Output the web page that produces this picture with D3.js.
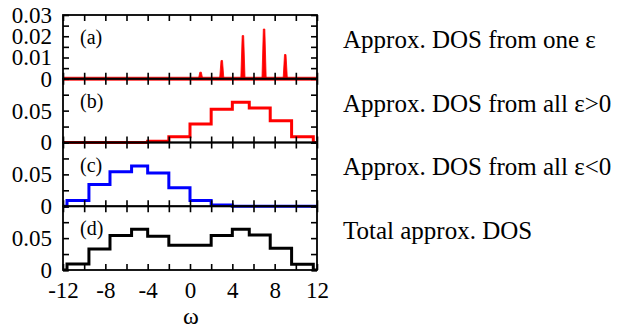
<!DOCTYPE html>
<html>
<head>
<meta charset="utf-8">
<script src="https://cdn.jsdelivr.net/npm/d3@7"></script>
<style>
  html, body { margin: 0; padding: 0; background: #fff; }
  svg { display: block; }
  text { font-family: "Liberation Serif", "Times New Roman", serif; fill: #000; }
</style>
</head>
<body>
<svg id="chart" width="619" height="331"></svg>
<script>
// ω axis
const omegaDomain = [-12, 12];
const omegaMinorTicks = d3.range(-12, 12.001, 2);
const omegaTickLabels = [-12, -8, -4, 0, 4, 8, 12];

// (a) approximate DOS from one ε: narrow peaks
const spikeOmega = [1, 3, 5, 7, 9];
const spikeDOS = [0.0031, 0.0086, 0.0203, 0.0234, 0.0114];

// (b) approximate DOS from all ε>0 (bin edges and bin heights)
const edgesPos = [-12, -4, -2, 0, 2, 4, 5.6, 7.58, 9.6, 11.65, 12];
const dosPos = [0, 0.002, 0.009, 0.029, 0.052, 0.063, 0.054, 0.034, 0.009, 0];

// (c) approximate DOS from all ε<0
const edgesNeg = [-12, -11.62, -9.55, -7.56, -5.52, -4, -2, 0, 2, 4, 12];
const dosNeg = [0, 0.009, 0.034, 0.054, 0.063, 0.052, 0.029, 0.009, 0.002, 0];

// (d) total approximate DOS
const edgesTot = [-12, -11.62, -9.55, -7.56, -5.52, -4, -2, 2, 4, 5.6, 7.58, 9.6, 11.65, 12];
const dosTot = [0, 0.0095, 0.033, 0.054, 0.064, 0.053, 0.039, 0.054, 0.064, 0.055, 0.034, 0.009, 0];

// y ticks per panel
const yTicksA = [0, 0.005, 0.01, 0.015, 0.02, 0.025, 0.03];
const yLabelsA = [0, 0.01, 0.02, 0.03];
const yTicksB = [0, 0.025, 0.05, 0.075, 0.1];
const yLabelsB = [0, 0.05];

const panelTags = ["(a)", "(b)", "(c)", "(d)"];
const panelTexts = [
  "Approx. DOS from one \u03b5",
  "Approx. DOS from all \u03b5>0",
  "Approx. DOS from all \u03b5<0",
  "Total approx. DOS"
];

const svg = d3.select("#chart");
const left = 63, right = 317, top0 = 15, panelH = 63.75;
const x = d3.scaleLinear().domain(omegaDomain).range([left, right]);

const fmtY = d => d === 0 ? "0" : d3.format(".2f")(d);
const panels = [
  { ymax: 0.03, ticks: yTicksA, labels: yLabelsA },
  { ymax: 0.1, ticks: yTicksB, labels: yLabelsB },
  { ymax: 0.1, ticks: yTicksB, labels: yLabelsB },
  { ymax: 0.1, ticks: yTicksB, labels: yLabelsB }
];
panels.forEach((p, i) => {
  p.top = top0 + i * panelH;
  p.bottom = p.top + panelH;
  p.y = d3.scaleLinear().domain([0, p.ymax]).range([p.bottom, p.top]);
});

// histogram as a step line
function stepPoints(edges, vals) {
  const pts = vals.map((v, i) => [edges[i], v]);
  pts.push([edges[edges.length - 1], vals[vals.length - 1]]);
  return pts;
}
function drawSteps(p, edges, vals, color) {
  const line = d3.line().x(d => x(d[0])).y(d => p.y(d[1])).curve(d3.curveStepAfter);
  svg.append("path")
    .attr("d", line(stepPoints(edges, vals)))
    .attr("fill", "none")
    .attr("stroke", color)
    .attr("stroke-width", 3)
    .attr("stroke-linejoin", "miter");
}

// (a): zero line plus narrow peaks
{
  const p = panels[0];
  svg.append("line")
    .attr("x1", x(omegaDomain[0])).attr("x2", x(omegaDomain[1]))
    .attr("y1", p.y(0)).attr("y2", p.y(0))
    .attr("stroke", "#ff0000").attr("stroke-width", 4).attr("opacity", 0.85);
  const area = d3.line().x(d => x(d[0])).y(d => p.y(d[1]));
  spikeOmega.forEach((w, i) => {
    const h = spikeDOS[i];
    const pts = [[w - 0.2, 0], [w - 0.07, h], [w + 0.07, h], [w + 0.2, 0]];
    svg.append("path")
      .attr("d", area(pts) + "Z")
      .attr("fill", "#ff0000")
      .attr("stroke", "#ff0000")
      .attr("stroke-width", 0.8);
  });
}
drawSteps(panels[1], edgesPos, dosPos, "#ff0000");
drawSteps(panels[2], edgesNeg, dosNeg, "#0000ff");
drawSteps(panels[3], edgesTot, dosTot, "#000000");

// frames, ticks and labels
panels.forEach((p, i) => {
  const g = svg.append("g");
  const tickStyle = sel => {
    sel.select(".domain").remove();
    sel.selectAll(".tick line").attr("stroke", "#000").attr("stroke-width", 1.6);
    sel.selectAll(".tick text").style("font-size", "23px").attr("fill", "#000");
  };
  // left (labelled) and right y ticks
  g.append("g").attr("transform", `translate(${left},0)`)
    .call(d3.axisLeft(p.y).tickValues(p.ticks).tickSize(-6).tickPadding(11)
      .tickFormat(d => p.labels.some(l => Math.abs(l - d) < 1e-9) ? fmtY(d) : ""))
    .call(tickStyle);
  g.append("g").attr("transform", `translate(${right},0)`)
    .call(d3.axisRight(p.y).tickValues(p.ticks).tickSize(-6).tickFormat(""))
    .call(tickStyle);
  // top and bottom ω ticks
  g.append("g").attr("transform", `translate(0,${p.top})`)
    .call(d3.axisTop(x).tickValues(omegaMinorTicks).tickSize(-6).tickFormat(""))
    .call(tickStyle);
  const bottomAxis = g.append("g").attr("transform", `translate(0,${p.bottom})`)
    .call(d3.axisBottom(x).tickValues(omegaMinorTicks).tickSize(-6).tickPadding(12)
      .tickFormat(d => (i === panels.length - 1 && omegaTickLabels.includes(d)) ? String(d) : ""))
    .call(tickStyle);
  bottomAxis.selectAll(".tick text").attr("dy", "0.71em");

  g.append("rect")
    .attr("x", left).attr("y", p.top)
    .attr("width", right - left).attr("height", p.bottom - p.top)
    .attr("fill", "none").attr("stroke", "#000").attr("stroke-width", 1.8);

  g.append("text")
    .attr("x", left + 17).attr("y", p.top + 29)
    .style("font-size", "20px")
    .text(panelTags[i]);

  svg.append("text")
    .attr("x", 343).attr("y", (p.top + p.bottom) / 2 + 1)
    .style("font-size", "25px")
    .text(panelTexts[i]);
});

// ω axis title
svg.append("text")
  .attr("x", (left + right) / 2 + 1).attr("y", 324)
  .attr("text-anchor", "middle")
  .style("font-size", "24px")
  .text("\u03c9");
</script>
</body>
</html>
